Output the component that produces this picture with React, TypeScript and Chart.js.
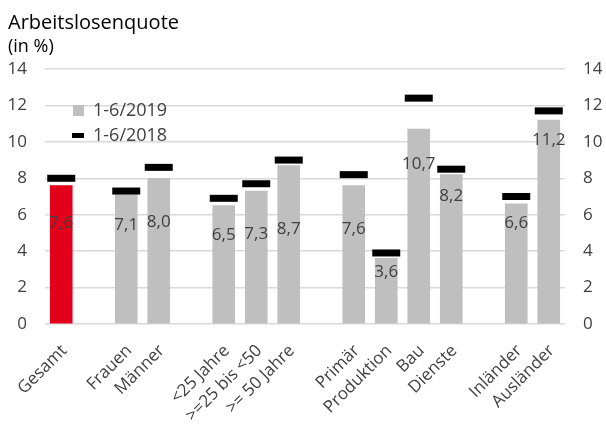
import React, { useEffect, useRef } from 'react';
import { Chart, registerables } from 'chart.js';

Chart.register(...registerables);

// ---- data ----
const categories = ['Gesamt', '', 'Frauen', 'Männer', '', '<25 Jahre', '>=25 bis <50', '>= 50 Jahre', '', 'Primär', 'Produktion', 'Bau', 'Dienste', '', 'Inländer', 'Ausländer'];
const values2019: (number | null)[] = [7.6, null, 7.1, 8.0, null, 6.5, 7.3, 8.7, null, 7.6, 3.6, 10.7, 8.2, null, 6.6, 11.2];
const values2018: (number | null)[] = [8.0, null, 7.3, 8.6, null, 6.9, 7.7, 9.0, null, 8.2, 3.9, 12.4, 8.5, null, 7.0, 11.7];
const valueLabels = ['7,6', '', '7,1', '8,0', '', '6,5', '7,3', '8,7', '', '7,6', '3,6', '10,7', '8,2', '', '6,6', '11,2'];
// where each value label sits (in axis units, label centre)
const labelAt: (number | null)[] = [5.55, null, 5.4, 5.6, null, 4.9, 4.95, 5.2, null, 5.2, 2.85, 8.8, 7.0, null, 5.55, 10.1];
const yTicks = [0, 2, 4, 6, 8, 10, 12, 14];
const seriesNames = ['1-6/2019', '1-6/2018'];
const titleText = 'Arbeitslosenquote';
const subtitleText = '(in %)';

const RED = '#E2001A';
const GREY = '#BFBFBF';
const TEXT = '#404040';
const FONT = "'Open Sans', 'Noto Sans', sans-serif";

const barColors = categories.map((c) => (c === 'Gesamt' ? RED : GREY));

export default function App() {
  const ref = useRef<HTMLCanvasElement | null>(null);

  useEffect(() => {
    if (!ref.current) return;

    const overlay = {
      id: 'overlay',
      afterDatasetsDraw(chart: any) {
        const ctx = chart.ctx;
        const xs = chart.scales.x;
        const ys = chart.scales.y;
        ctx.save();
        // value labels
        ctx.font = `17px ${FONT}`;
        ctx.fillStyle = TEXT;
        ctx.textAlign = 'center';
        ctx.textBaseline = 'middle';
        labelAt.forEach((v, i) => {
          if (v == null) return;
          ctx.fillText(valueLabels[i], xs.getPixelForValue(i), ys.getPixelForValue(v));
        });
        ctx.restore();
      },
      afterDraw(chart: any) {
        const ctx = chart.ctx;
        const xs = chart.scales.x;
        const area = chart.chartArea;
        ctx.save();
        // category labels, rotated 45°
        ctx.fillStyle = TEXT;
        ctx.font = `17px ${FONT}`;
        ctx.textAlign = 'right';
        ctx.textBaseline = 'middle';
        categories.forEach((c, i) => {
          if (!c) return;
          ctx.save();
          ctx.translate(xs.getPixelForValue(i) + 3, area.bottom + 24);
          ctx.rotate(-Math.PI / 4);
          ctx.fillText(c, 0, 0);
          ctx.restore();
        });
        // title
        ctx.fillStyle = '#000';
        ctx.textAlign = 'left';
        ctx.textBaseline = 'alphabetic';
        ctx.font = `20px ${FONT}`;
        ctx.fillText(titleText, 8, 29);
        ctx.font = `18px ${FONT}`;
        ctx.fillText(subtitleText, 8, 52);
        // legend
        ctx.fillStyle = GREY;
        ctx.fillRect(73, 105, 11, 11);
        ctx.fillStyle = '#000';
        ctx.fillRect(72, 133, 12, 5);
        ctx.fillStyle = TEXT;
        ctx.font = `18px ${FONT}`;
        ctx.textBaseline = 'middle';
        ctx.fillText(seriesNames[0], 93, 111);
        ctx.fillText(seriesNames[1], 93, 136);
        ctx.restore();
      },
    };

    const chart = new Chart(ref.current, {
      type: 'bar',
      data: {
        labels: categories,
        datasets: [
          {
            type: 'line',
            label: seriesNames[1],
            data: values2018,
            showLine: false,
            pointStyle: 'line',
            pointRadius: 14,
            pointHoverRadius: 14,
            pointBorderWidth: 7,
            pointBorderColor: '#000',
            pointBackgroundColor: '#000',
            borderColor: '#000',
            order: 0,
          } as any,
          {
            type: 'bar',
            label: seriesNames[0],
            data: values2019,
            backgroundColor: barColors,
            barThickness: 22,
            order: 1,
          },
        ],
      },
      options: {
        responsive: false,
        animation: false,
        layout: { padding: { top: 69, left: 0, right: 0, bottom: 0 } },
        plugins: {
          legend: { display: false },
          tooltip: { enabled: false },
          title: { display: false },
        },
        scales: {
          x: {
            grid: { display: false },
            border: { display: false },
            ticks: { display: false },
            afterFit: (s: any) => {
              s.height = 106;
            },
          },
          y: {
            position: 'left',
            min: 0,
            max: 14,
            afterBuildTicks: (s: any) => {
              s.ticks = yTicks.map((v) => ({ value: v }));
            },
            grid: { color: '#D9D9D9', lineWidth: 1.5, drawTicks: false },
            border: { display: false },
            ticks: { color: TEXT, font: { family: FONT, size: 17 }, padding: 18 },
            afterFit: (s: any) => {
              s.width = 45;
            },
          },
          y2: {
            position: 'right',
            min: 0,
            max: 14,
            afterBuildTicks: (s: any) => {
              s.ticks = yTicks.map((v) => ({ value: v }));
            },
            grid: { display: false, drawTicks: false },
            border: { display: false },
            ticks: { color: TEXT, font: { family: FONT, size: 17 }, padding: 18 },
            afterFit: (s: any) => {
              s.width = 41;
            },
          },
        },
      },
      plugins: [overlay],
    });

    return () => chart.destroy();
  }, []);

  return (
    <div style={{ position: 'absolute', left: 0, top: 0, width: 606, height: 430 }}>
      <canvas ref={ref} width={606} height={430} />
    </div>
  );
}
